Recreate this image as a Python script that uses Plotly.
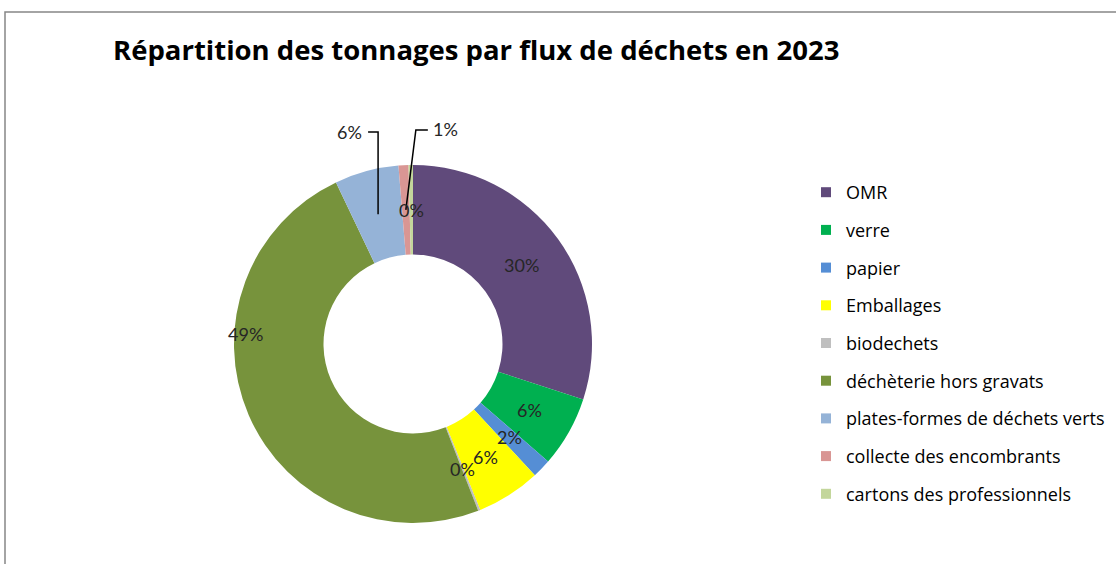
import math
import plotly.graph_objects as go

# share of each waste stream in 2023 (%)
labels = [
    "OMR",
    "verre",
    "papier",
    "Emballages",
    "biodechets",
    "déchèterie hors gravats",
    "plates-formes de déchets verts",
    "collecte des encombrants",
    "cartons des professionnels",
]
values = [30.1, 6.4, 1.7, 5.8, 0.2, 49.0, 5.8, 0.9, 0.4]
colors = [
    "#604A7B", "#00B050", "#558ED5", "#FFFF00", "#BFBFBF",
    "#77933C", "#95B3D7", "#D99694", "#C3D69B",
]

W, H = 1116, 564
# pie geometry in pixels
cx, cy, r_out = 413, 344, 179
hole = 0.5
r_mid = r_out * (1 + hole) / 2


def px(x):
    return x / W


def py(y):
    return 1 - y / H


fig = go.Figure()

fig.add_trace(
    go.Pie(
        labels=labels,
        values=values,
        hole=hole,
        sort=False,
        direction="clockwise",
        rotation=0,
        marker=dict(colors=colors, line=dict(width=0)),
        textinfo="none",
        showlegend=False,
        domain=dict(x=[px(cx - r_out), px(cx + r_out)], y=[py(cy + r_out), py(cy - r_out)]),
    )
)

# legend through dummy traces so rows can be spaced like the original
for lab, col in zip(labels, colors):
    fig.add_trace(
        go.Scatter(
            x=[None], y=[None], mode="markers", name=lab, legendgroup=lab,
            marker=dict(symbol="square", size=10, color=col),
        )
    )

# percent labels placed at the middle of each ring segment
total = sum(values)
moved = {
    "déchèterie hors gravats": "left",
    "plates-formes de déchets verts": "lead_left",
    "collecte des encombrants": "lead_right",
}
label_font = dict(family="Lato", size=18, color="#262626")
shapes = []
annotations = []
cum = 0
for lab, v in zip(labels, values):
    mid = (cum + v / 2) / total * 2 * math.pi
    cum += v
    x = cx + r_mid * math.sin(mid)
    y = cy - r_mid * math.cos(mid)
    txt = f"{round(v / total * 100)}%"
    mode = moved.get(lab)
    if mode == "left":
        x, y = cx - 168, cy - 10
    if mode == "lead_left":
        ly = 132
        shapes.append(dict(
            type="path", xref="paper", yref="paper",
            path=f"M {px(x)},{py(y)} L {px(x)},{py(ly)} L {px(x - 10)},{py(ly)}",
            line=dict(color="black", width=1.5),
        ))
        x, y = x - 29, ly
    elif mode == "lead_right":
        ly = 130
        shapes.append(dict(
            type="path", xref="paper", yref="paper",
            path=f"M {px(x)},{py(y)} L {px(x + 10)},{py(ly)} L {px(x + 22)},{py(ly)}",
            line=dict(color="black", width=1.5),
        ))
        x, y = x + 40, ly - 1
    annotations.append(dict(
        x=px(x), y=py(y), xref="paper", yref="paper", text=txt,
        showarrow=False, font=label_font, xanchor="center", yanchor="middle",
    ))

# chart area border (runs off the right and bottom edges)
shapes.append(dict(
    type="rect", xref="paper", yref="paper",
    x0=px(5), x1=1.2, y0=-0.2, y1=py(12),
    line=dict(color="#868686", width=1.5),
))

fig.update_layout(
    width=W,
    height=H,
    margin=dict(l=0, r=0, t=0, b=0),
    paper_bgcolor="white",
    plot_bgcolor="white",
    title=dict(
        text="<b>Répartition des tonnages par flux de déchets en 2023</b>",
        x=px(113), xanchor="left", y=py(50), yanchor="middle",
        font=dict(family="Open Sans", size=27.5, color="black"),
    ),
    xaxis=dict(visible=False),
    yaxis=dict(visible=False),
    legend=dict(
        x=px(806), y=py(174), xanchor="left", yanchor="top",
        font=dict(family="Open Sans", size=18, color="black"),
        tracegroupgap=11.3,
        bgcolor="rgba(0,0,0,0)",
    ),
    shapes=shapes,
    annotations=annotations,
)

fig.write_html(
    "out.html",
    config={"displayModeBar": False},
    post_script="document.body.style.margin='0';",
)
